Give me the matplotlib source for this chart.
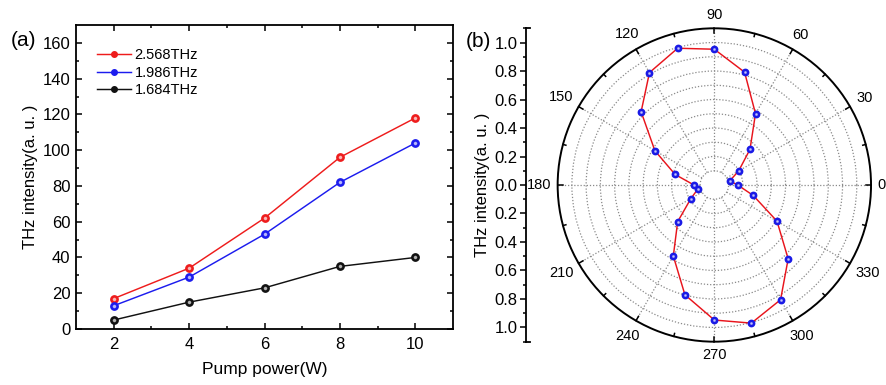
import numpy as np
import matplotlib
matplotlib.use("Agg")
import matplotlib.pyplot as plt
from matplotlib.lines import Line2D

plt.rcParams['font.family'] = ['Liberation Sans', 'DejaVu Sans']

# (a) THz intensity vs pump power
pump_power = [2, 4, 6, 8, 10]
series_labels = ["2.568THz", "1.986THz", "1.684THz"]
intensity_2568 = [17, 34, 62, 96, 118]
intensity_1986 = [13, 29, 53, 82, 104]
intensity_1684 = [5, 15, 23, 35, 40]
series_colors = ['#ee1c1c', '#1c1cee', '#111111']

# (b) polarisation dependence (angle in degrees, normalised intensity)
angles_deg = [0, 15, 30, 45, 60, 75, 90, 105, 120, 135, 150, 165,
              180, 195, 210, 225, 240, 255, 270, 285, 300, 315, 330, 345, 360]
polar_r = [0.164, 0.112, 0.197, 0.354, 0.578, 0.82, 0.953, 0.994, 0.911, 0.727, 0.482, 0.285,
           0.143, 0.122, 0.190, 0.364, 0.576, 0.798, 0.948, 1.004, 0.930, 0.733, 0.508, 0.282, 0.164]
theta_labels = [0, 30, 60, 90, 120, 150, 180, 210, 240, 270, 300, 330]

fig = plt.figure(figsize=(8.86, 3.85), dpi=100)

# ---------- panel (a) ----------
ax = fig.add_axes([0.0858, 0.1455, 0.4255, 0.7896])
for vals, lab, col in zip([intensity_2568, intensity_1986, intensity_1684], series_labels, series_colors):
    ax.plot(pump_power, vals, '-o', color=col, lw=1.05, ms=5.3, mfc=col, mec=col, label=lab)
    # small highlight so the markers look like the shaded balls of the original
    ax.plot(pump_power, vals, 'o', color='white', ms=1.6, alpha=0.55)

ax.set_xlim(1, 11)
ax.set_ylim(0, 170)
ax.set_xticks([2, 4, 6, 8, 10])
ax.set_xticks([3, 5, 7, 9], minor=True)
ax.set_yticks(np.arange(0, 161, 20))
ax.set_yticks(np.arange(10, 170, 20), minor=True)
ax.tick_params(which='both', direction='in', top=True, right=True, labelsize=12, width=1.1)
ax.tick_params(which='major', length=4.5)
ax.tick_params(which='minor', length=2.5)
ax.tick_params(axis='x', pad=6)
ax.tick_params(axis='y', pad=4)
for sp in ax.spines.values():
    sp.set_linewidth(1.3)
ax.set_xlabel('Pump power(W)', fontsize=12.5, labelpad=7)
ax.set_ylabel('THz intensity(a. u. )', fontsize=12, labelpad=3)

# legend: line only with a dot, like the original
handles = [Line2D([0], [0], color=c, lw=1.05, marker='o', ms=4, mfc=c, mec=c) for c in series_colors]
ax.legend(handles, series_labels, loc='upper left', bbox_to_anchor=(0.037, 0.948), frameon=False,
          fontsize=10.5, handlelength=2.3, handletextpad=0.25, labelspacing=0.25, borderpad=0)

fig.text(0.026, 0.895, '(a)', fontsize=15, ha='center', va='center')

# ---------- panel (b) ----------
pax = fig.add_axes([0.6294, 0.1125, 0.3537, 0.814], projection='polar')
theta = np.deg2rad(angles_deg)
pax.plot(theta, polar_r, '-', color='#e8141c', lw=1.05, zorder=3)
pax.plot(theta[:-1], polar_r[:-1], 'o', color='#1a1ae6', ms=4.6, zorder=4)
pax.plot(theta[:-1], polar_r[:-1], 'o', color='white', ms=1.1, alpha=0.5, zorder=5)

rmax = 1.1
px_per_unit = 142.3  # pixels per radial unit at this figure size
pax.set_ylim(0, rmax)
pax.set_yticks(np.arange(0.1, 1.05, 0.1))
pax.set_yticklabels([])
pax.set_xticks(np.deg2rad(theta_labels))
pax.set_xticklabels([])
pax.tick_params(axis='x', length=0)
pax.xaxis.grid(False)
pax.yaxis.grid(True, color='#8a8a8a', linestyle=(0, (1, 1.5)), lw=0.9)
# radial spokes start from the inner ring, leaving the centre empty
for t in theta_labels:
    pax.plot([np.deg2rad(t)] * 2, [0.1, rmax], color='#8a8a8a', linestyle=(0, (1, 1.5)), lw=0.9, zorder=1)
# inward ticks on the outer circle, major every 30 deg, minor every 15 deg
for t in range(0, 360, 15):
    tick_len = 5 if t % 30 == 0 else 3
    pax.plot([np.deg2rad(t)] * 2, [rmax - tick_len / px_per_unit, rmax], color='black', lw=1.1,
             zorder=6, clip_on=False)
# angle labels placed just outside the circle
for t in theta_labels:
    a = np.deg2rad(t)
    w = 7.6 * len(str(t))
    d = 7 + abs(np.cos(a)) * w / 2 + abs(np.sin(a)) * 6
    pax.text(a, rmax + d / px_per_unit, str(t), fontsize=10.5, ha='center', va='center',
             clip_on=False)
pax.spines['polar'].set_linewidth(1.4)

# radial scale drawn as a separate vertical axis on the left
rax = fig.add_axes([0.5937, 0.1125, 0.0001, 0.814])
rax.set_ylim(-rmax, rmax)
rax.set_xticks([])
for name in ['top', 'right', 'bottom']:
    rax.spines[name].set_visible(False)
rax.spines['left'].set_linewidth(1.3)
rticks = np.round(np.arange(-1.0, 1.01, 0.2), 1)
rax.set_yticks(rticks)
rax.set_yticklabels([f"{abs(v):.1f}" for v in rticks])
rax.set_yticks(np.round(np.arange(-1.1, 1.11, 0.1), 1), minor=True)
rax.tick_params(which='both', direction='out', labelsize=12, width=1.1)
rax.tick_params(which='major', length=4, pad=2)
rax.tick_params(which='minor', length=2.5)
rax.set_ylabel('THz intensity(a. u. )', fontsize=12, labelpad=3)
# little hooks at both ends of the scale
for yy in (0.1125, 0.1125 + 0.814):
    fig.add_artist(Line2D([0.5937, 0.5937 + 4 / 886], [yy, yy], color='black', lw=1.3,
                          transform=fig.transFigure))

fig.text(0.5395, 0.8935, '(b)', fontsize=15, ha='center', va='center')

fig.savefig('out.png', dpi=100)
